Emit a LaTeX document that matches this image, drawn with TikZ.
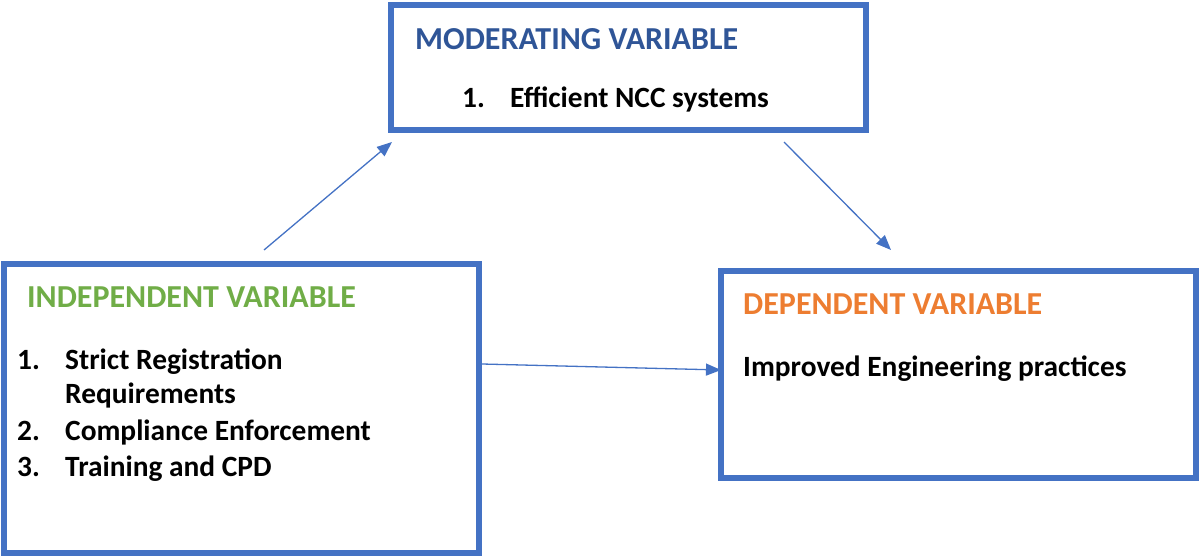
\documentclass[tikz,border=0pt]{standalone}
\usepackage{fontspec}
\setmainfont{Carlito}
\usetikzlibrary{arrows.meta}
\definecolor{boxblue}{HTML}{4472C4}
\definecolor{modblue}{HTML}{2F5597}
\definecolor{indgreen}{HTML}{70AD47}
\definecolor{deporange}{HTML}{ED7D31}
\tikzset{
  varbox/.style={draw=boxblue, line width=6pt},
  title/.style={anchor=base west, inner sep=0pt, font=\bfseries\fontsize{32}{38}\selectfont},
  body/.style={anchor=base west, inner sep=0pt, font=\bfseries\fontsize{29.4}{35}\selectfont},
  link/.style={draw=boxblue, line width=1.3pt, -{Triangle[length=15pt,width=12pt]}},
}
\begin{document}
\begin{tikzpicture}[x=1pt,y=-1pt]
\useasboundingbox (0,0) rectangle (1199,556);
% boxes
\draw[varbox] (391,5.5) rectangle (866,130);
\draw[varbox] (4,264) rectangle (479,553);
\draw[varbox] (721,271) rectangle (1196,478);
% moderating
\node[title, text=modblue] (modt) at (415,50) {MODERATING VARIABLE};
\node[body] (mod1n) at (462,108) {1.};
\node[body] (mod1) at (510,108) {Efficient NCC systems};
% independent
\node[title, text=indgreen] (indt) at (27,307) {INDEPENDENT VARIABLE};
\node[body] (i1n) at (17,369) {1.};
\node[body] (i1) at (65,369) {Strict Registration};
\node[body] (i1b) at (65,403) {Requirements};
\node[body] (i2n) at (17,440) {2.};
\node[body] (i2) at (65,440) {Compliance Enforcement};
\node[body] (i3n) at (17,476) {3.};
\node[body] (i3) at (65,476) {Training and CPD};
% dependent
\node[title, text=deporange] (dept) at (743,314) {DEPENDENT VARIABLE};
\node[body] (dep1) at (743,376) {Improved Engineering practices};
% arrow ends
\coordinate (a1s) at (264,250);
\coordinate (a1e) at (392,142);
\coordinate (a2s) at (784,142);
\coordinate (a2e) at (891,250);
\coordinate (a3s) at (482,364);
\coordinate (a3e) at (721,370);
\draw[link] (a1s) -- (a1e);
\draw[link] (a2s) -- (a2e);
\draw[link] (a3s) -- (a3e);
\end{tikzpicture}
\end{document}
